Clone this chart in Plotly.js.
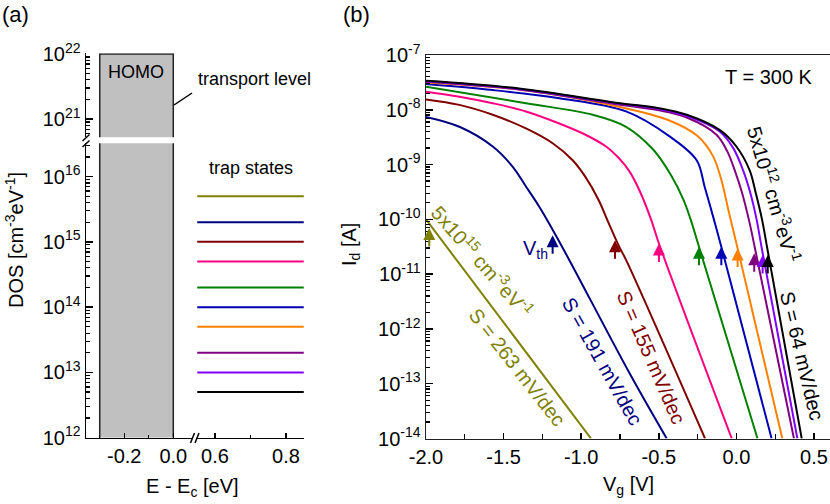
<!DOCTYPE html>
<html>
<head>
<meta charset="utf-8">
<script src="https://cdn.plot.ly/plotly-3.0.1.min.js"></script>
<style>
  html, body { margin: 0; padding: 0; background: #fff; }
  #chart { width: 830px; height: 504px; }
</style>
</head>
<body>
<div id="chart"></div>
<script>
// ---- (a) density of states ----
const trapDos = [5e15, 2e15, 1e15, 5e14, 2e14, 1e14, 5e13, 2e13, 1e13, 5e12];
const trapEnergy = [0.55, 0.85];
const homoEnergy = [-0.3, 0.0];
const homoDos = [1e12, 1e22];

// one colour per trap density, top to bottom
const colors = ["#808000", "#000080", "#800000", "#ff0080", "#008000",
                "#0000b4", "#ff8000", "#800080", "#8000ff", "#000000"];

// ---- (b) transfer curves: Vg [V] and log10(Id [A]) ----
const vgOlive  = [-2.0, -0.937];
const logOlive = [-10.0, -14.0];
const vgNavy   = [-2.0, -1.785, -1.57, -1.441, -1.356, -1.27, -1.184, -1.077, -0.69, -0.449];
const logNavy  = [-8.13, -8.31, -8.67, -9.04, -9.40, -9.77, -10.19, -10.74, -12.8, -14.0];
const vgRed    = [-2.0, -1.785, -1.57, -1.356, -1.184, -1.055, -0.974, -0.887, -0.823, -0.755, -0.711, -0.202];
const logRed   = [-7.81, -7.91, -8.09, -8.34, -8.61, -8.92, -9.22, -9.65, -10.07, -10.5, -10.74, -14.0];
const vgPink   = [-2.0, -1.785, -1.57, -1.356, -1.141, -0.969, -0.84, -0.755, -0.69, -0.62, -0.55, -0.499, -0.03];
const logPink  = [-7.67, -7.76, -7.88, -8.03, -8.25, -8.46, -8.67, -8.89, -9.12, -9.5, -10.0, -10.44, -14.0];
const vgGreen  = [-2.0, -1.356, -0.926, -0.711, -0.535, -0.42, -0.34, -0.295, -0.241, 0.136];
const logGreen = [-7.58, -7.88, -8.09, -8.31, -8.73, -9.2, -9.65, -10.0, -10.5, -14.0];
const vgBlue   = [-2.0, -1.57, -1.141, -0.711, -0.428, -0.256, -0.205, -0.15, -0.097, 0.227];
const logBlue  = [-7.53, -7.64, -7.79, -8.03, -8.49, -8.92, -9.4, -9.95, -10.5, -14.0];
const vgOrange = [-2.0, -1.4, -0.75, -0.428, -0.25, -0.15, -0.095, -0.05, 0.008, 0.296];
const logOrange= [-7.50, -7.63, -7.95, -8.2, -8.48, -8.85, -9.3, -9.85, -10.53, -14.0];
const vgPurple = [-2.0, -1.4, -0.75, -0.5, -0.32, -0.13, -0.06, -0.005, 0.035, 0.08, 0.125, 0.371];
const logPurple= [-7.49, -7.63, -7.91, -8.01, -8.14, -8.45, -8.75, -9.15, -9.5, -10.0, -10.6, -14.0];
const vgViolet = [-2.0, -1.4, -0.75, -0.5, -0.32, -0.106, -0.02, 0.045, 0.09, 0.13, 0.165, 0.393];
const logViolet= [-7.48, -7.62, -7.89, -7.98, -8.11, -8.40, -8.70, -9.12, -9.52, -10.0, -10.55, -14.0];
const vgBlack  = [-2.0, -1.4, -0.75, -0.5, -0.32, -0.106, 0.0, 0.085, 0.125, 0.165, 0.201, 0.421];
const logBlack = [-7.47, -7.61, -7.88, -7.97, -8.09, -8.37, -8.67, -9.10, -9.52, -10.0, -10.56, -14.0];

// threshold voltage arrows (tip position)
const vthValues = [-1.979, -1.184, -0.782, -0.499, -0.241, -0.097, 0.008, 0.115, 0.169, 0.202];
const vthLogId  = [-10.16, -10.29, -10.38, -10.44, -10.50, -10.50, -10.53, -10.62, -10.65, -10.65];

const curves = [
  [vgOlive, logOlive], [vgNavy, logNavy], [vgRed, logRed], [vgPink, logPink],
  [vgGreen, logGreen], [vgBlue, logBlue], [vgOrange, logOrange],
  [vgPurple, logPurple], [vgViolet, logViolet], [vgBlack, logBlack]
];

const W = 830, H = 504;
const FONT = "Liberation Sans, Arial, sans-serif";
const px = x => x / W;
const py = y => 1 - y / H;

function logTicks(exps) {
  return {
    tickmode: "array",
    tickvals: exps.map(e => Math.pow(10, e)),
    ticktext: exps.map(e => "10<sup>" + e + "</sup>")
  };
}
function minorLog(lo, hi) {
  const vals = [];
  for (let d = lo; d < hi; d++)
    for (let k = 2; k <= 9; k++) vals.push(k * Math.pow(10, d));
  return { tickmode: "array", tickvals: vals, ticks: "inside", ticklen: 4, tickwidth: 1.2, tickcolor: "#000" };
}

const axisBase = {
  showline: true, linecolor: "#000", linewidth: 1.5,
  ticks: "inside", tickcolor: "#000", tickwidth: 1.5, ticklen: 7,
  showgrid: false, zeroline: false, fixedrange: true,
  tickfont: { family: FONT, size: 20, color: "#000" }
};

const traces = [];

// HOMO block, lower and upper part of the broken axis
["y", "y2"].forEach(ya => {
  traces.push({
    x: [homoEnergy[0], homoEnergy[0], homoEnergy[1], homoEnergy[1]],
    y: [homoDos[0], homoDos[1], homoDos[1], homoDos[0]],
    xaxis: "x", yaxis: ya, mode: "lines", fill: "toself",
    fillcolor: "#c0c0c0", line: { width: 0 }, hoverinfo: "skip"
  });
});
traces.push({
  x: [homoEnergy[0], homoEnergy[0], null, homoEnergy[1], homoEnergy[1]],
  y: [homoDos[0], homoDos[1], null, homoDos[0], homoDos[1]],
  xaxis: "x", yaxis: "y", mode: "lines", line: { color: "#222", width: 1.5 }
});
traces.push({
  x: [homoEnergy[0], homoEnergy[0], homoEnergy[1], homoEnergy[1]],
  y: [homoDos[0], homoDos[1], homoDos[1], homoDos[0]],
  xaxis: "x", yaxis: "y2", mode: "lines", line: { color: "#222", width: 1.5 }
});

// trap levels
trapDos.forEach((d, i) => {
  traces.push({
    x: trapEnergy, y: [d, d], xaxis: "x2", yaxis: "y",
    mode: "lines", line: { color: colors[i], width: 2 }
  });
});

// transfer curves
curves.forEach(([vg, lg], i) => {
  traces.push({
    x: vg, y: lg.map(v => Math.pow(10, v)), xaxis: "x3", yaxis: "y3",
    mode: "lines", line: { color: colors[i], width: 2, shape: "spline", smoothing: 1 }
  });
});

// text labels (pixel positions)
function label(text, x, y, opts = {}) {
  return Object.assign({
    text, x: px(x), y: py(y), xref: "paper", yref: "paper",
    xanchor: "center", yanchor: "middle", showarrow: false,
    font: { family: FONT, size: opts.size || 20, color: opts.color || "#000" }
  }, opts.angle !== undefined ? { textangle: opts.angle } : {});
}

const annotations = [
  label("(a)", 15, 14, { size: 22 }),
  label("(b)", 356, 14, { size: 22 }),
  label("HOMO", 136, 72, { size: 18 }),
  label("transport level", 254, 79, { size: 18 }),
  label("trap states", 251, 168, { size: 18 }),
  label("DOS [cm<sup>-3</sup>eV<sup>-1</sup>]", 14, 240, { angle: -90 }),
  label("E - E<sub>c</sub> [eV]", 192, 487),
  label("I<sub>d</sub> [A]", 350, 245, { angle: -90 }),
  label("V<sub>g</sub> [V]", 628, 485),
  label("T = 300 K", 769, 77),
  label("5x10<sup>12</sup> cm<sup>-3</sup>eV<sup>-1</sup>", 774, 194, { angle: 74 }),
  label("S = 64 mV/dec", 802, 356, { angle: 76.5 }),
  label("S = 155 mV/dec", 651, 357, { angle: 66.5, color: colors[2] }),
  label("S = 191 mV/dec", 602, 361, { angle: 60.7, color: colors[1] }),
  label("S = 263 mV/dec", 517, 367, { angle: 52, color: colors[0] }),
  label("5x10<sup>15</sup> cm<sup>-3</sup>eV<sup>-1</sup>", 483, 260, { angle: 48.8, color: colors[0] }),
  label("V<sub>th</sub>", 535, 249, { color: colors[1] })
];

vthValues.forEach((v, i) => {
  annotations.push({
    x: v, y: vthLogId[i], xref: "x3", yref: "y3", text: "",
    showarrow: true, ax: 0, ay: 20, arrowhead: 2, arrowsize: 1.2,
    arrowwidth: 2, arrowcolor: colors[i], standoff: 0
  });
});

// break marks and the leader line
const seg = (x0, y0, x1, y1) => ({
  type: "line", xref: "paper", yref: "paper",
  x0: px(x0), y0: py(y0), x1: px(x1), y1: py(y1),
  line: { color: "#000", width: 1.5 }
});
const shapes = [
  seg(82.5, 141, 89.5, 134.5), seg(82.5, 147, 89.5, 140.5),
  seg(190.5, 443, 194.5, 433), seg(195, 443, 199, 433),
  seg(174, 105, 192, 93)
];

const layout = {
  width: W, height: H,
  margin: { l: 0, r: 0, t: 0, b: 0 },
  paper_bgcolor: "#fff", plot_bgcolor: "rgba(0,0,0,0)",
  showlegend: false,
  font: { family: FONT, size: 20, color: "#000" },
  xaxis: Object.assign({}, axisBase, {
    domain: [px(86), px(192)], range: [-0.356, 0.0763], anchor: "y",
    tickmode: "array", tickvals: [-0.2, 0.0], ticktext: ["-0.2", "0.0"], ticklen: 5,
    minor: { tickmode: "array", tickvals: [-0.3, -0.1], ticks: "inside", ticklen: 3, tickwidth: 1.2, tickcolor: "#000" }
  }),
  xaxis2: Object.assign({}, axisBase, {
    domain: [px(196), px(304)], range: [0.5465, 0.8507], anchor: "y",
    tickmode: "array", tickvals: [0.6, 0.8], ticktext: ["0.6", "0.8"], ticklen: 5,
    minor: { tickmode: "array", tickvals: [0.7], ticks: "inside", ticklen: 3, tickwidth: 1.2, tickcolor: "#000" }
  }),
  yaxis: Object.assign({}, axisBase, logTicks([12, 13, 14, 15, 16]), {
    type: "log", domain: [py(437.7), py(143.3)], range: [12, 16.51], anchor: "x",
    minor: minorLog(12, 17)
  }),
  yaxis2: Object.assign({}, axisBase, logTicks([21, 22]), {
    type: "log", domain: [py(137.3), py(53.3)], range: [20.72, 22.01], anchor: "x",
    minor: minorLog(20, 22)
  }),
  xaxis3: Object.assign({}, axisBase, {
    domain: [px(426), px(829.5)], range: [-2, 0.6], anchor: "y3", mirror: true,
    tickmode: "array", tickvals: [-2, -1.5, -1, -0.5, 0, 0.5],
    ticktext: ["-2.0", "-1.5", "-1.0", "-0.5", "0.0", "0.5"], ticklen: 6,
    linecolor: "#222",
    minor: { tickmode: "array", tickvals: [-1.75, -1.25, -0.75, -0.25, 0.25], ticks: "inside", ticklen: 5, tickwidth: 1.2, tickcolor: "#000" }
  }),
  yaxis3: Object.assign({}, axisBase, logTicks([-14, -13, -12, -11, -10, -9, -8, -7]), {
    type: "log", domain: [py(438.5), py(55)], range: [-14, -7], anchor: "x3", mirror: true,
    linecolor: "#222",
    minor: minorLog(-14, -7)
  }),
  annotations, shapes
};

Plotly.newPlot("chart", traces, layout, { displayModeBar: false, staticPlot: true });
</script>
</body>
</html>
